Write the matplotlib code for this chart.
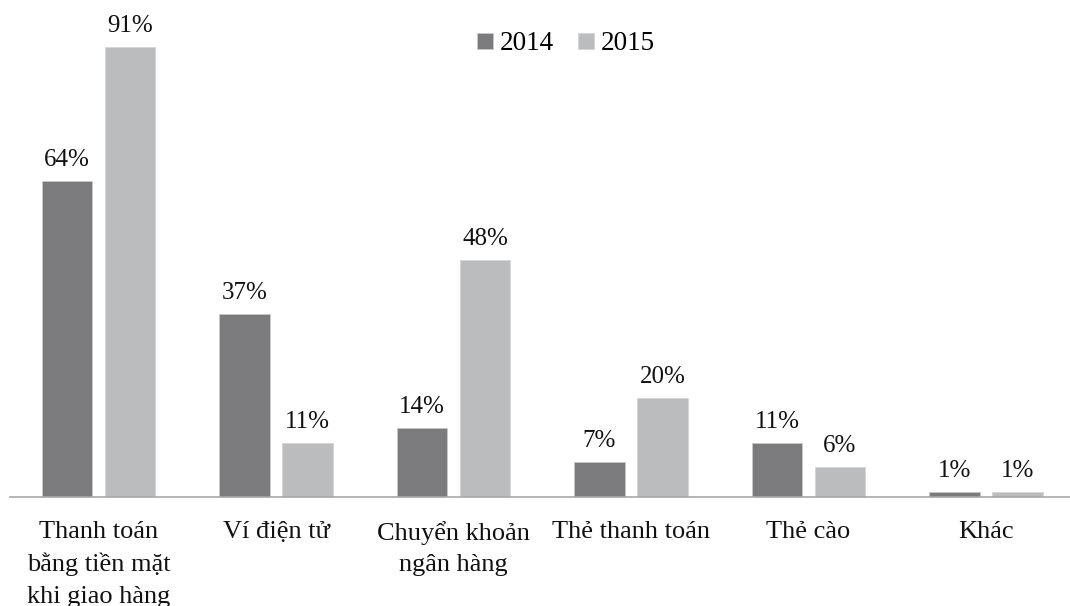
import matplotlib
matplotlib.use("Agg")
import matplotlib.pyplot as plt
import numpy as np

categories = ["Thanh toán\nbằng tiền mặt\nkhi giao hàng", "Ví điện tử",
              "Chuyển khoản\nngân hàng", "Thẻ thanh toán", "Thẻ cào", "Khác"]
series_names = ["2014", "2015"]
values_2014 = [64, 37, 14, 7, 11, 1]
values_2015 = [91, 11, 48, 20, 6, 1]

plt.rcParams['font.family'] = ['Liberation Serif', 'DejaVu Serif']

W, H = 1070, 606
fig = plt.figure(figsize=(W / 100, H / 100), dpi=100)
left_px, right_px = 9.75, 1074.75
base_px = 497
top_px = 2.5
ax = fig.add_axes([left_px / W, (H - base_px) / H, (right_px - left_px) / W, (base_px - top_px) / H])

x = np.arange(len(categories))
bw = 0.282
off = 0.1775
colors = ["#7b7b7d", "#bbbcbe"]
b1 = ax.bar(x - off, values_2014, bw, color=colors[0], edgecolor="#c8c8c8", linewidth=0.6, label=series_names[0])
b2 = ax.bar(x + off, values_2015, bw, color=colors[1], edgecolor="#d5d5d5", linewidth=0.6, label=series_names[1])

ax.set_xlim(-0.5, len(categories) - 0.5)
ax.set_ylim(0, 100)

for bars, vals in ((b1, values_2014), (b2, values_2015)):
    for rect, v in zip(bars, vals):
        ax.annotate(f"{v}%", (rect.get_x() + rect.get_width() / 2, rect.get_height()),
                    xytext=(0, 10.8), textcoords="offset points",
                    ha="center", va="baseline", fontsize=18, color="#111111")

for s in ("top", "right", "left"):
    ax.spines[s].set_visible(False)
ax.spines["bottom"].set_color("#a8a8a8")
ax.spines["bottom"].set_linewidth(1.2)
ax.set_yticks([])
ax.set_xticks(x)
ax.set_xticklabels(categories, fontsize=19, linespacing=1.55, color="#111111", va="top")
ax.tick_params(axis="x", length=0, pad=17)

leg = fig.legend(handles=[b1, b2], labels=series_names, loc="center", bbox_to_anchor=(566 / W, 1 - 44 / H),
                 ncol=2, frameon=False, fontsize=19.5, handlelength=0.58, handleheight=0.58,
                 handletextpad=0.25, columnspacing=0.9, borderpad=0)

fig.savefig("out.png", dpi=100, facecolor="white")
